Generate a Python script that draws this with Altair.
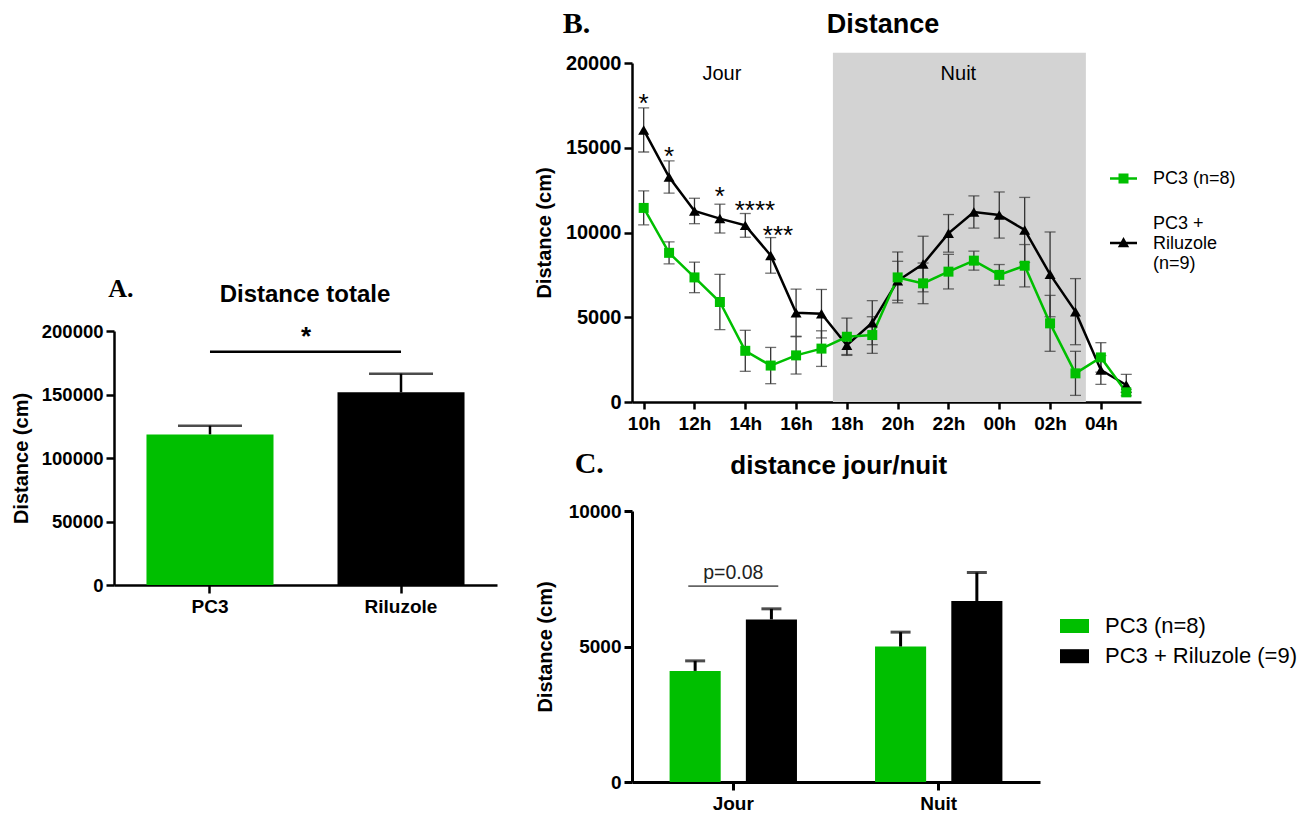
import json
import altair as alt
import pandas as pd

FONT = "Liberation Sans"
SERIF = "Liberation Serif"
GREEN = "#00bf00"
BLACK = "#000000"
SHADE = "#d3d3d3"
ERR = "#333333"

# ---------------- Panel A : Distance totale ----------------
a_groups = ["PC3", "Riluzole"]
a_mean = [118600, 151700]
a_sem = [6800, 14700]
a_ticks = [0, 50000, 100000, 150000, 200000]
a_sig_y = 183700
a_star_y = 188600

# ---------------- Panel B : Distance (hourly) ----------------
b_hours = ["10h", "11h", "12h", "13h", "14h", "15h", "16h", "17h", "18h", "19h",
           "20h", "21h", "22h", "23h", "00h", "01h", "02h", "03h", "04h", "05h"]
b_tick_labels = ["10h", "12h", "14h", "16h", "18h", "20h", "22h", "00h", "02h", "04h"]
b_series = ["PC3 (n=8)", "PC3 + Riluzole (n=9)"]
b_pc3_mean = [11450, 8800, 7350, 5900, 3020, 2150, 2750, 3150, 3850, 3950,
              7350, 7000, 7690, 8340, 7500, 8040, 4640, 1690, 2630, 570]
b_pc3_sem = [1000, 650, 900, 1630, 1210, 1070, 1100, 1050, 1100, 1080,
             1500, 1200, 1020, 560, 610, 1250, 1650, 1300, 870, 0]
b_ril_mean = [16050, 13270, 11270, 10820, 10420, 8650, 5270, 5210, 3350, 4680,
              7150, 8140, 9950, 11210, 11030, 10150, 7530, 5330, 1890, 1000]
b_ril_sem = [1300, 950, 750, 850, 700, 1050, 1390, 1430, 550, 1300,
             1150, 1640, 1110, 950, 1360, 1920, 2500, 1950, 850, 630]
b_yticks = [0, 5000, 10000, 15000, 20000]
b_night = [7.45, 17.41]
b_shade_top = 20600
b_phase_labels = ["Jour", "Nuit"]
b_phase_x = [3.08, 12.39]
b_phase_y = [19000, 19000]
b_star_text = ["*", "*", "*", "****", "***"]
b_star_x = [0, 1, 3, 4.38, 5.29]
b_star_y = [17090, 13990, 11630, 10810, 9330]

# ---------------- Panel C : distance jour/nuit ----------------
c_cats = ["Jour", "Nuit"]
c_series = ["PC3 (n=8)", "PC3 + Riluzole (=9)"]
c_pc3_mean = [4100, 5000]
c_pc3_sem = [370, 530]
c_ril_mean = [6000, 6680]
c_ril_sem = [390, 1050]
c_ticks = [0, 5000, 10000]
c_pval_text = "p=0.08"
c_pval_line_y = 7230
c_pval_text_y = 7490

# ---------------- layout constants ----------------
A_W, A_H, A_TOP = 383, 522, 268
B_W, B_H = 509, 339
C_W, C_H = 408, 271

# legend symbols: a short line with the marker on it (fill only).
# the triangle one is drawn one text line lower, next to the middle label line.
PATH_SQ = ("M-1,-0.09L1,-0.09L1,0.09L-1,0.09Z"
           "M-0.37,-0.37L0.37,-0.37L0.37,0.37L-0.37,0.37Z")
PATH_TRI = ("M-1,1.36L1,1.36L1,1.54L-1,1.54Z"
            "M0,1.0L0.42,1.75L-0.42,1.75Z")
PATH_RECT = "M-1,-0.483L1,-0.483L1,0.483L-1,0.483Z"

RES_CH = dict(color="independent", shape="independent")


def axis(title=None, values=None, fmt=None, label_expr=None, label_size=19,
         tick=8, width=2.5, title_pad=10, label_pad=3):
    kw = dict(title=title, labelFont=FONT, labelFontSize=label_size,
              labelFontWeight="bold", labelColor="black", labelPadding=label_pad,
              labelAngle=0, labelFlush=False, labelOverlap=False,
              tickSize=tick, tickWidth=width, tickColor="black",
              domainWidth=width, domainColor="black", grid=False,
              titleFont=FONT, titleFontSize=20, titleFontWeight="bold",
              titleColor="black", titlePadding=title_pad)
    if values is not None:
        kw["values"] = values
    if fmt is not None:
        kw["format"] = fmt
    if label_expr is not None:
        kw["labelExpr"] = label_expr
    return alt.Axis(**kw)


def text_df(t):
    return pd.DataFrame({"t": [t]})


# ================= Panel A =================
df_a = pd.DataFrame({"g": a_groups, "m": a_mean,
                     "hi": [m + s for m, s in zip(a_mean, a_sem)]})
a_xs = alt.Scale(domain=a_groups, paddingInner=0.335, paddingOuter=0.17)
a_ys = alt.Scale(domain=[0, 200000], range=[A_H, A_TOP], nice=False)
a_x = alt.X("g:N", scale=a_xs, title=None, axis=axis(label_size=19, label_pad=4))
a_y = alt.Y("m:Q", scale=a_ys, axis=axis(title="Distance (cm)", values=a_ticks,
                                          fmt="d", label_size=18.5))

a_bars = alt.Chart(df_a).mark_bar().encode(
    x=a_x, y=a_y,
    color=alt.Color("g:N", scale=alt.Scale(domain=a_groups, range=[GREEN, BLACK]),
                    legend=None))
a_err = alt.Chart(df_a).mark_rule(color="black", strokeWidth=2.5).encode(
    x="g:N", y="m:Q", y2="hi:Q")
a_cap = alt.Chart(df_a).mark_tick(color="black", thickness=2.5, size=64,
                                  orient="horizontal").encode(x="g:N", y="hi:Q")
df_a_sig = pd.DataFrame({"g": [a_groups[0]], "g2": [a_groups[1]], "m": [a_sig_y]})
a_sig = alt.Chart(df_a_sig).mark_rule(color="black", strokeWidth=2.5).encode(
    x="g:N", x2="g2:N", y="m:Q")
df_a_star = pd.DataFrame({"g": [a_groups[0]], "m": [a_star_y], "t": ["*"]})
a_star = alt.Chart(df_a_star).mark_text(
    font=FONT, fontSize=26, fontWeight="bold", dx=96, align="center",
    baseline="alphabetic", color="black").encode(x="g:N", y="m:Q", text="t:N")
a_title = alt.Chart(text_df("Distance totale")).mark_text(
    font=FONT, fontSize=24, fontWeight="bold", align="center",
    baseline="alphabetic", dy=-29.3, color="black").encode(
    x=alt.value(191), y=alt.datum(200000), text="t:N")
a_letter = alt.Chart(text_df("A.")).mark_text(
    font=SERIF, fontSize=26, fontWeight="bold", align="left",
    baseline="alphabetic", dy=-34.3, color="black").encode(
    x=alt.value(-5.7), y=alt.datum(200000), text="t:N")

panel_a = alt.layer(a_bars, a_err, a_cap, a_sig, a_star, a_title, a_letter).properties(
    width=A_W, height=A_H)

# ================= Panel B =================
rows = []
for name, means, sems in [(b_series[0], b_pc3_mean, b_pc3_sem),
                          (b_series[1], b_ril_mean, b_ril_sem)]:
    for i, (h, m, s) in enumerate(zip(b_hours, means, sems)):
        rows.append({"idx": i, "hour": h, "grp": name, "mean": m,
                     "lo": m - s, "hi": m + s})
df_b = pd.DataFrame(rows)

b_label_expr = json.dumps(b_tick_labels) + "[round(datum.value / 2)]"
b_x = alt.X("idx:Q", scale=alt.Scale(domain=[-0.46, 19.58], nice=False, zero=False),
            axis=axis(values=list(range(0, 20, 2)), label_expr=b_label_expr,
                      label_size=19, tick=7, label_pad=5))
b_y = alt.Y("mean:Q", scale=alt.Scale(domain=[0, 20000], nice=False),
            axis=axis(title="Distance (cm)", values=b_yticks, fmt="d",
                      label_size=20, tick=8, title_pad=11))

df_shade = pd.DataFrame({"idx": [b_night[0]], "idx2": [b_night[1]],
                         "mean": [0], "top": [b_shade_top]})
b_shade = alt.Chart(df_shade).mark_rect(color=SHADE).encode(
    x=b_x, x2="idx2:Q", y=b_y, y2="top:Q")

df_phase = pd.DataFrame({"idx": b_phase_x, "mean": b_phase_y, "t": b_phase_labels})
b_phase = alt.Chart(df_phase).mark_text(
    font=FONT, fontSize=20, align="center", baseline="alphabetic",
    color="black").encode(x="idx:Q", y="mean:Q", text="t:N")

base_b = alt.Chart(df_b)
b_err = base_b.mark_rule(color=ERR, strokeWidth=1.3).encode(
    x="idx:Q", y="lo:Q", y2="hi:Q")
b_cap_lo = base_b.mark_tick(color=ERR, thickness=1.3, size=11,
                            orient="horizontal").encode(x="idx:Q", y="lo:Q")
b_cap_hi = base_b.mark_tick(color=ERR, thickness=1.3, size=11,
                            orient="horizontal").encode(x="idx:Q", y="hi:Q")

b_leg_expr = ("datum.label === 'PC3 + Riluzole (n=9)' ? "
              "['PC3 +', 'Riluzole', '(n=9)'] : datum.label")
b_legend = alt.Legend(title=None, orient="none", legendX=478, legendY=102,
                      padding=0, symbolSize=729, symbolStrokeWidth=0,
                      symbolOpacity=1, labelFont=FONT, labelFontSize=18,
                      labelColor="black", labelOffset=16, rowPadding=22,
                      labelExpr=b_leg_expr, labelLimit=300)
b_color_scale = alt.Scale(domain=b_series, range=[GREEN, BLACK])
b_color = alt.Color("grp:N", scale=b_color_scale, legend=None)

b_line_ril = base_b.transform_filter(alt.datum.grp == b_series[1]).mark_line(
    strokeWidth=2.5).encode(x="idx:Q", y="mean:Q", color=b_color)
b_line_pc3 = base_b.transform_filter(alt.datum.grp == b_series[0]).mark_line(
    strokeWidth=2.5).encode(x="idx:Q", y="mean:Q", color=b_color)
b_pts_ril = base_b.transform_filter(alt.datum.grp == b_series[1]).mark_point(
    shape="triangle-up", filled=True, size=120, opacity=1).encode(
    x="idx:Q", y="mean:Q", color=b_color)
b_pts_pc3 = base_b.transform_filter(alt.datum.grp == b_series[0]).mark_point(
    shape="square", filled=True, size=100, opacity=1).encode(
    x="idx:Q", y="mean:Q", color=b_color)

# invisible layer that only carries the line+marker legend
b_leg = base_b.mark_point(filled=True, opacity=0).encode(
    x="idx:Q", y="mean:Q",
    color=alt.Color("grp:N", scale=b_color_scale, legend=b_legend),
    shape=alt.Shape("grp:N", scale=alt.Scale(domain=b_series, range=[PATH_SQ, PATH_TRI]),
                    legend=b_legend))

df_star = pd.DataFrame({"idx": b_star_x, "mean": b_star_y, "t": b_star_text})
b_star = alt.Chart(df_star).mark_text(
    font=FONT, fontSize=26, align="center", baseline="alphabetic",
    color="black").encode(x="idx:Q", y="mean:Q", text="t:N")

b_letter = alt.Chart(text_df("B.")).mark_text(
    font=SERIF, fontSize=30, fontWeight="bold", align="left",
    baseline="alphabetic", color="black").encode(
    x=alt.value(-69.3), y=alt.value(-30.3), text="t:N")
b_title = alt.Chart(text_df("Distance")).mark_text(
    font=FONT, fontSize=27, fontWeight="bold", align="center",
    baseline="alphabetic", color="black").encode(
    x=alt.value(251), y=alt.value(-30.3), text="t:N")

panel_b = alt.layer(b_leg, b_shade, b_phase, b_err, b_cap_lo, b_cap_hi, b_line_ril,
                    b_line_pc3, b_pts_ril, b_pts_pc3, b_star,
                    b_letter, b_title).properties(width=B_W, height=B_H)

# ================= Panel C =================
crows = []
for name, means, sems in [(c_series[0], c_pc3_mean, c_pc3_sem),
                          (c_series[1], c_ril_mean, c_ril_sem)]:
    for cat, m, s in zip(c_cats, means, sems):
        crows.append({"cat": cat, "grp": name, "mean": m, "hi": m + s})
df_c = pd.DataFrame(crows)

c_x = alt.X("cat:N", scale=alt.Scale(domain=c_cats, paddingInner=0.38, paddingOuter=0.183),
            title=None, axis=axis(label_size=19, tick=8, width=3, label_pad=4))
c_xo = alt.XOffset("grp:N", scale=alt.Scale(domain=c_series, paddingInner=0.33,
                                            paddingOuter=0))
c_y = alt.Y("mean:Q", scale=alt.Scale(domain=[0, 10000], nice=False),
            axis=axis(title="Distance (cm)", values=c_ticks, fmt="d", label_size=19,
                      tick=8, width=3, title_pad=13))

c_leg = alt.Legend(title=None, orient="none", legendX=428, legendY=100.5, padding=0,
                   symbolType=PATH_RECT, symbolSize=841, symbolStrokeWidth=0,
                   labelFont=FONT, labelFontSize=22, labelColor="black",
                   labelOffset=16, rowPadding=4.2, labelLimit=400)
base_c = alt.Chart(df_c)
c_bars = base_c.mark_bar().encode(
    x=c_x, xOffset=c_xo, y=c_y,
    color=alt.Color("grp:N", scale=alt.Scale(domain=c_series, range=[GREEN, BLACK]),
                    legend=c_leg))
c_err = base_c.mark_rule(color="black", strokeWidth=3).encode(
    x="cat:N", xOffset="grp:N", y="mean:Q", y2="hi:Q")
c_cap = base_c.mark_tick(color="black", thickness=3, size=20,
                         orient="horizontal").encode(x="cat:N", xOffset="grp:N", y="hi:Q")
df_pl = pd.DataFrame({"cat": [c_cats[0]], "mean": [c_pval_line_y]})
c_pline = alt.Chart(df_pl).mark_tick(color="#222222", thickness=1.7, size=90,
                                     orient="horizontal").encode(x="cat:N", y="mean:Q")
df_pt = pd.DataFrame({"cat": [c_cats[0]], "mean": [c_pval_text_y], "t": [c_pval_text]})
c_ptext = alt.Chart(df_pt).mark_text(
    font=FONT, fontSize=19.5, align="center", baseline="alphabetic",
    color="#222222").encode(x="cat:N", y="mean:Q", text="t:N")
c_letter = alt.Chart(text_df("C.")).mark_text(
    font=SERIF, fontSize=30, fontWeight="bold", align="left",
    baseline="alphabetic", color="black").encode(
    x=alt.value(-57.3), y=alt.value(-38.3), text="t:N")
c_title = alt.Chart(text_df("distance jour/nuit")).mark_text(
    font=FONT, fontSize=26, fontWeight="bold", align="center",
    baseline="alphabetic", color="black").encode(
    x=alt.value(206.7), y=alt.value(-36.7), text="t:N")

panel_c = alt.layer(c_bars, c_err, c_cap, c_pline, c_ptext, c_letter, c_title).properties(
    width=C_W, height=C_H)

right = alt.vconcat(panel_b, panel_c, spacing=15).resolve_scale(**RES_CH).resolve_legend(**RES_CH)
chart = alt.hconcat(panel_a, right, spacing=37).resolve_scale(**RES_CH).resolve_legend(
    **RES_CH).properties(
    padding={"left": 3, "top": 0, "right": 0, "bottom": 0}
).configure_view(stroke=None)

chart.save("out.html", embed_options={"renderer": "svg", "actions": False})
